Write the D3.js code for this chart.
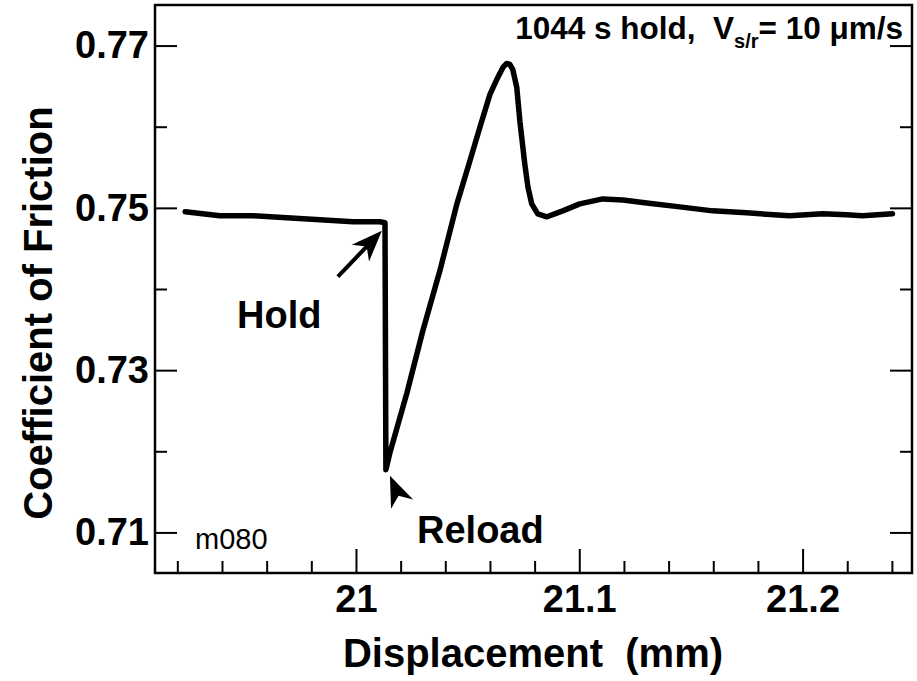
<!DOCTYPE html>
<html lang="en">
<head>
    <meta charset="UTF-8">
    <title>Friction - hold</title>
    <script src="https://d3js.org/d3.v7.min.js"></script>
    <style>
        body{
            margin: 0;
            background-color: white;
        }
        svg text{
            font-family: "Liberation Sans", Arial, Helvetica, sans-serif;
            font-weight: bold;
            fill: black;
        }
        .tick line{
            stroke: black;
            stroke-width: 2px;
        }
        path.curve{
            fill: none;
            stroke: black;
            stroke-width: 5.5px;
            stroke-linejoin: round;
            stroke-linecap: round;
        }
    </style>
</head>
<body>
<svg id="chart" width="917" height="681"></svg>
<script>
    // trace: displacement (mm) vs friction coefficient
    let disp = [20.9235, 20.9391, 20.9539, 20.9691, 20.9839, 20.9987, 21.0107, 21.0130, 21.0134,
        21.0152, 21.0228, 21.0300, 21.0376, 21.0452, 21.0510, 21.0555, 21.0600, 21.0635, 21.0658,
        21.0675, 21.0689, 21.0702, 21.0720, 21.0734, 21.0756, 21.0770, 21.0787, 21.0814, 21.0855,
        21.0890, 21.0926, 21.1002, 21.1105, 21.1195, 21.1302, 21.1450, 21.1597, 21.1749, 21.1942,
        21.2089, 21.2197, 21.2268, 21.2403];
    let friction = [0.74951, 0.74902, 0.74902, 0.74877, 0.74853, 0.74828, 0.74828, 0.74816, 0.71773,
        0.71982, 0.72718, 0.73491, 0.74227, 0.75049, 0.75577, 0.75994, 0.76399, 0.76607, 0.76730,
        0.76780, 0.76767, 0.76706, 0.76485, 0.76067, 0.75540, 0.75258, 0.75049, 0.74926, 0.74890,
        0.74926, 0.74963, 0.75049, 0.75110, 0.75098, 0.75061, 0.75012, 0.74963, 0.74939, 0.74902,
        0.74926, 0.74914, 0.74902, 0.74926];

    let xMajor = [21, 21.1, 21.2];
    let xMinor = [20.92, 20.94, 20.96, 20.98, 21.02, 21.04, 21.06, 21.08, 21.12, 21.14, 21.16, 21.18, 21.22, 21.24];
    let yMajor = [0.71, 0.73, 0.75, 0.77];
    let yMinor = [0.72, 0.74, 0.76];

    // annotation arrows: [tailX, tailY, tipX, tipY] in data units
    let holdArrow = [20.9919, 0.74153, 21.0116, 0.74718];
    let reloadArrow = [21.0208, 0.71340, 21.0152, 0.71700];

    let svg = d3.select('svg');
    let mLeft = 155, mRight = 912, mTop = 5, mBottom = 573;

    let x = d3.scaleLinear().domain([20.91, 21.249]).range([mLeft, mRight]);
    let y = d3.scaleLinear().domain([0.705, 0.775]).range([mBottom, mTop]);

    // left axis, ticks pointing in
    svg.append('g')
        .attr('transform', 'translate(' + mLeft + ',0)')
        .call(d3.axisLeft(y).tickValues(yMajor).tickSize(-22).tickPadding(6).tickFormat(d3.format('.2f')))
        .call(g => g.select('.domain').remove())
        .call(g => g.selectAll('text').style('font-size', '38px'));
    svg.append('g')
        .attr('transform', 'translate(' + mLeft + ',0)')
        .call(d3.axisLeft(y).tickValues(yMinor).tickSize(-12).tickFormat(''))
        .call(g => g.select('.domain').remove());
    // right axis
    svg.append('g')
        .attr('transform', 'translate(' + mRight + ',0)')
        .call(d3.axisRight(y).tickValues(yMajor).tickSize(-22).tickFormat(''))
        .call(g => g.select('.domain').remove());
    svg.append('g')
        .attr('transform', 'translate(' + mRight + ',0)')
        .call(d3.axisRight(y).tickValues(yMinor).tickSize(-12).tickFormat(''))
        .call(g => g.select('.domain').remove());
    // bottom axis
    svg.append('g')
        .attr('transform', 'translate(0,' + mBottom + ')')
        .call(d3.axisBottom(x).tickValues(xMajor).tickSize(-24).tickPadding(12).tickFormat(d3.format('')))
        .call(g => g.select('.domain').remove())
        .call(g => g.selectAll('text').style('font-size', '38px'));
    svg.append('g')
        .attr('transform', 'translate(0,' + mBottom + ')')
        .call(d3.axisBottom(x).tickValues(xMinor).tickSize(-12).tickFormat(''))
        .call(g => g.select('.domain').remove());

    // frame
    svg.append('rect')
        .attr('x', mLeft).attr('y', mTop)
        .attr('width', mRight - mLeft).attr('height', mBottom - mTop)
        .attr('fill', 'none').attr('stroke', 'black').attr('stroke-width', 2.5);

    // data curve
    let pts = disp.map((d, i) => [d, friction[i]]);
    let line = d3.line().x(d => x(d[0])).y(d => y(d[1]));
    svg.append('path').attr('class', 'curve').attr('d', line(pts));

    // arrows
    function arrow(a, shaft) {
        let x0 = x(a[0]), y0 = y(a[1]), x1 = x(a[2]), y1 = y(a[3]);
        let len = Math.hypot(x1 - x0, y1 - y0);
        let ux = (x1 - x0) / len, uy = (y1 - y0) / len;
        let px = -uy, py = ux;
        if (shaft) {
            svg.append('line')
                .attr('x1', x0).attr('y1', y0)
                .attr('x2', x1 - ux * 20).attr('y2', y1 - uy * 20)
                .attr('stroke', 'black').attr('stroke-width', 4);
        }
        let hl = 31, hw = 12, notch = 22;
        let head = [
            [x1, y1],
            [x1 - ux * hl + px * hw, y1 - uy * hl + py * hw],
            [x1 - ux * notch, y1 - uy * notch],
            [x1 - ux * hl - px * hw, y1 - uy * hl - py * hw]
        ];
        svg.append('path')
            .attr('d', 'M' + head.join('L') + 'Z')
            .attr('fill', 'black');
    }
    arrow(holdArrow, true);
    arrow(reloadArrow, false);

    // annotations
    svg.append('text').attr('x', 237).attr('y', 328).style('font-size', '38px').text('Hold');
    svg.append('text').attr('x', 417).attr('y', 543).style('font-size', '38px').text('Reload');
    svg.append('text').attr('x', 195).attr('y', 549)
        .style('font-size', '29px').style('font-weight', 'normal').text('m080');

    let title = svg.append('text')
        .attr('x', 903).attr('y', 39)
        .attr('text-anchor', 'end')
        .style('font-size', '31.5px');
    title.append('tspan').text('1044 s hold,\u00a0\u00a0V');
    title.append('tspan').attr('dy', 9).style('font-size', '20px').text('s/r');
    title.append('tspan').attr('dy', -9).text('= 10 \u03bcm/s');

    // axis titles
    svg.append('text')
        .attr('x', 533).attr('y', 667)
        .attr('text-anchor', 'middle')
        .style('font-size', '40px')
        .text('Displacement\u00a0\u00a0(mm)');
    svg.append('text')
        .attr('transform', 'translate(52,313) rotate(-90)')
        .attr('text-anchor', 'middle')
        .style('font-size', '40px')
        .text('Coefficient of Friction');
</script>
</body>
</html>
